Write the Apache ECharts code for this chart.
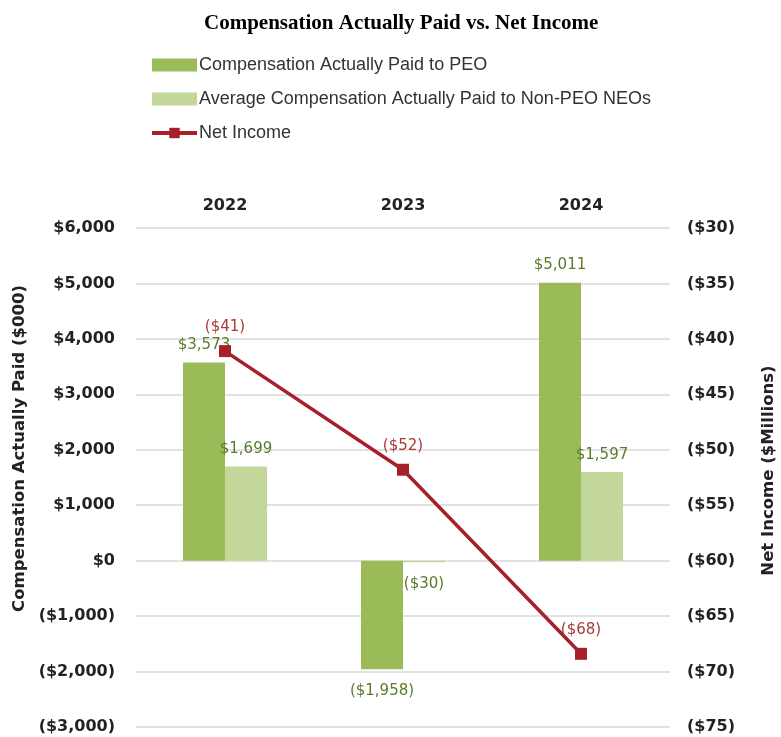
<!DOCTYPE html>
<html>
    <head>
        <meta charset="utf-8">
        <title>Compensation Actually Paid vs. Net Income</title>
        <script src="https://cdn.jsdelivr.net/npm/echarts@6/dist/echarts.min.js"></script>
        <style>
            html, body { margin: 0; padding: 0; background: #fff; }
        </style>
    </head>
    <body>
        <div id="main" style="width:781px;height:737px;"></div>
        <script type="text/javascript">
            // data
            var years = ['2022', '2023', '2024'];
            var capPEO = [3573, -1958, 5011];
            var capNonPEO = [1699, -30, 1597];
            var netIncome = [-41.1, -51.8, -68.4];

            var axisFont = 'DejaVu Sans';

            function money(v) {
                var s = '$' + Math.abs(v).toLocaleString('en-US');
                return v < 0 ? '(' + s + ')' : s;
            }

            // negative bars get their label underneath
            function barData(arr) {
                return arr.map(function (v) {
                    return { value: v, label: { position: v < 0 ? 'bottom' : 'top', distance: v < 0 ? 14 : 10 } };
                });
            }

            var myChart = echarts.init(document.getElementById('main'));
            var option = {
                animation: false,
                title: {
                    text: 'Compensation Actually Paid vs. Net Income',
                    left: 199,
                    top: 8,
                    textStyle: {
                        fontFamily: 'Liberation Serif',
                        fontWeight: 'bold',
                        fontSize: 21,
                        color: '#000'
                    }
                },
                legend: {
                    orient: 'vertical',
                    left: 150,
                    top: 56,
                    padding: 0,
                    itemWidth: 45,
                    itemHeight: 13,
                    itemGap: 16,
                    textStyle: {
                        fontFamily: 'Liberation Sans',
                        fontSize: 18,
                        color: '#333',
                        padding: [0, 0, 0, -3]
                    },
                    data: [
                        { name: 'Compensation Actually Paid to PEO', icon: 'rect' },
                        { name: 'Average Compensation Actually Paid to Non-PEO NEOs', icon: 'rect' },
                        { name: 'Net Income', lineStyle: { width: 4 } }
                    ]
                },
                grid: {
                    left: 136,
                    right: 111,
                    top: 228,
                    bottom: 10,
                    outerBoundsMode: 'none'
                },
                xAxis: [{
                    type: 'category',
                    position: 'top',
                    data: years,
                    axisLine: { show: false },
                    axisTick: { show: false },
                    axisLabel: {
                        margin: 14,
                        fontFamily: axisFont,
                        fontWeight: 'bold',
                        fontSize: 16,
                        color: '#222'
                    }
                }],
                yAxis: [{
                    type: 'value',
                    min: -3000,
                    max: 6000,
                    interval: 1000,
                    name: 'Compensation Actually Paid ($000)',
                    nameLocation: 'middle',
                    nameRotate: 90,
                    nameGap: 104,
                    nameTextStyle: {
                        fontFamily: axisFont,
                        fontWeight: 'bold',
                        fontSize: 16.5,
                        color: '#222',
                        padding: [0, 0, 0, 58]
                    },
                    axisLine: { show: false },
                    axisTick: { show: false },
                    axisLabel: {
                        margin: 21,
                        fontFamily: axisFont,
                        fontWeight: 'bold',
                        fontSize: 16,
                        color: '#222',
                        formatter: money
                    },
                    splitLine: { lineStyle: { color: '#d9d9d9', width: 1.5 } }
                }, {
                    type: 'value',
                    position: 'right',
                    min: -75,
                    max: -30,
                    interval: 5,
                    name: 'Net Income ($Millions)',
                    nameLocation: 'middle',
                    nameRotate: 90,
                    nameGap: 90,
                    nameTextStyle: {
                        fontFamily: axisFont,
                        fontWeight: 'bold',
                        fontSize: 16.5,
                        color: '#222',
                        padding: [0, 0, 0, 14]
                    },
                    axisLine: { show: false },
                    axisTick: { show: false },
                    axisLabel: {
                        margin: 17,
                        fontFamily: axisFont,
                        fontWeight: 'bold',
                        fontSize: 16,
                        color: '#222',
                        formatter: function (v) { return '($' + Math.abs(v) + ')'; }
                    },
                    splitLine: { show: false }
                }],
                series: [{
                    name: 'Compensation Actually Paid to PEO',
                    type: 'bar',
                    data: barData(capPEO),
                    barWidth: 42,
                    barGap: '0%',
                    itemStyle: { color: '#9bbb59' },
                    label: {
                        show: true,
                        fontFamily: axisFont,
                        fontSize: 15,
                        color: '#5b7b2b',
                        formatter: function (p) { return money(p.value); }
                    }
                }, {
                    name: 'Average Compensation Actually Paid to Non-PEO NEOs',
                    type: 'bar',
                    data: barData(capNonPEO),
                    barWidth: 42,
                    barGap: '0%',
                    itemStyle: { color: '#c4d79b' },
                    label: {
                        show: true,
                        fontFamily: axisFont,
                        fontSize: 15,
                        color: '#5b7b2b',
                        formatter: function (p) { return money(p.value); }
                    }
                }, {
                    name: 'Net Income',
                    type: 'line',
                    yAxisIndex: 1,
                    data: netIncome,
                    z: 5,
                    symbol: 'rect',
                    symbolSize: 12,
                    lineStyle: { color: '#a5202a', width: 3.5 },
                    itemStyle: { color: '#a5202a' },
                    label: {
                        show: true,
                        position: 'top',
                        distance: 10,
                        fontFamily: axisFont,
                        fontSize: 15,
                        color: '#a83a3a',
                        formatter: function (p) { return '($' + Math.round(Math.abs(p.value)) + ')'; }
                    }
                }]
            };
            myChart.setOption(option);
        </script>
    </body>
</html>
